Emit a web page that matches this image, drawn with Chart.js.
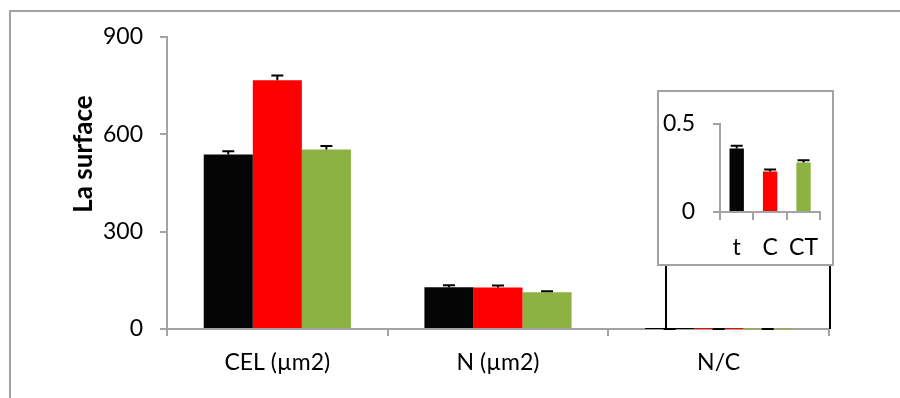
<!DOCTYPE html>
<html>
<head>
<meta charset="utf-8">
<title>La surface</title>
<script src="https://cdn.jsdelivr.net/npm/chart.js@4.4.0/dist/chart.umd.min.js"></script>
<style>
  html, body { margin: 0; padding: 0; background: #fff; overflow: hidden; }
  #wrap { position: relative; width: 900px; height: 398px; }
  #frame { position: absolute; left: 9px; top: 10px; width: 900px; height: 400px; border: 2px solid #a3a3a3; }
  #main { position: absolute; left: 0; top: 0; }
  #insetBox { position: absolute; left: 657px; top: 90px; width: 173px; height: 172px; border: 2px solid #a3a3a3; background: #fff; }
  #links { position: absolute; left: 665px; top: 266px; width: 162px; height: 63px; border-left: 2px solid #000; border-right: 2px solid #000; }
</style>
</head>
<body>
<div id="wrap">
  <div id="frame"></div>
  <canvas id="main" width="900" height="398"></canvas>
  <div id="links"></div>
  <div id="insetBox"><canvas id="inset" width="173" height="172"></canvas></div>
</div>
<script>
  // main chart data
  const categories = ['CEL (µm2)', 'N (µm2)', 'N/C'];
  const tValues = [538, 129, 0.36];
  const tErrors = [10, 6, 0.016];
  const cValues = [767, 128, 0.23];
  const cErrors = [14, 6, 0.011];
  const ctValues = [553, 113, 0.28];
  const ctErrors = [11, 3, 0.013];
  const yTicks = [0, 300, 600, 900];

  // inset (zoom on N/C)
  const insetLabels = ['t', 'C', 'CT'];
  const insetValues = [0.36, 0.23, 0.28];
  const insetErrors = [0.016, 0.011, 0.013];
  const insetTicks = [0, 0.5];

  const BLACK = '#050505', RED = '#ff0000', GREEN = '#8db243';
  const AXIS = '#a3a3a3';

  Chart.defaults.font.family = 'Lato';
  Chart.defaults.color = '#000';

  // plus-only error bars
  const errorBars = {
    id: 'errorBars',
    afterDatasetsDraw(chart, args, opts) {
      const ctx = chart.ctx;
      const y = chart.scales.y;
      ctx.save();
      ctx.strokeStyle = '#000';
      ctx.lineWidth = 2;
      chart.data.datasets.forEach((ds, i) => {
        chart.getDatasetMeta(i).data.forEach((bar, j) => {
          const v = ds.data[j], e = ds.errors[j];
          const y0 = y.getPixelForValue(v), y1 = y.getPixelForValue(v + e);
          ctx.beginPath();
          ctx.moveTo(bar.x, y0);
          ctx.lineTo(bar.x, y1);
          ctx.moveTo(bar.x - opts.cap, y1);
          ctx.lineTo(bar.x + opts.cap, y1);
          ctx.stroke();
        });
      });
      ctx.restore();
    }
  };

  // y title sits higher than the axis middle, like the original
  const yTitle = {
    id: 'yTitle',
    afterDraw(chart, args, opts) {
      const ctx = chart.ctx;
      ctx.save();
      ctx.translate(opts.x, opts.y);
      ctx.rotate(-Math.PI / 2);
      ctx.font = 'bold 26px Lato';
      ctx.fillStyle = '#000';
      ctx.textAlign = 'center';
      ctx.textBaseline = 'middle';
      ctx.fillText(opts.text, 0, 0);
      ctx.restore();
    }
  };

  function ds(label, data, errors, color) {
    return { label: label, data: data, errors: errors, backgroundColor: color, borderWidth: 0 };
  }

  new Chart(document.getElementById('main'), {
    type: 'bar',
    data: {
      labels: categories,
      datasets: [
        ds('t', tValues, tErrors, BLACK),
        ds('C', cValues, cErrors, RED),
        ds('CT', ctValues, ctErrors, GREEN)
      ]
    },
    options: {
      responsive: false,
      animation: false,
      layout: { padding: { left: 0, top: 37, right: 71, bottom: 0 } },
      datasets: { bar: { categoryPercentage: 0.667, barPercentage: 1 } },
      plugins: {
        legend: { display: false },
        tooltip: { enabled: false },
        errorBars: { cap: 6 },
        yTitle: { text: 'La surface', x: 84, y: 154 }
      },
      scales: {
        x: {
          grid: { drawOnChartArea: false, color: AXIS, lineWidth: 2, tickLength: 7, offset: true },
          border: { color: AXIS, width: 2 },
          ticks: { font: { size: 23 }, padding: 13 },
          afterFit(s) { s.height = 69; }
        },
        y: {
          min: 0,
          max: 900,
          afterBuildTicks(s) { s.ticks = yTicks.map(v => ({ value: v })); },
          grid: { drawOnChartArea: false, color: AXIS, lineWidth: 2, tickLength: 7 },
          border: { color: AXIS, width: 2 },
          ticks: { font: { size: 23 }, padding: 17 },
          afterFit(s) { s.width = 167; }
        }
      }
    },
    plugins: [errorBars, yTitle]
  });

  new Chart(document.getElementById('inset'), {
    type: 'bar',
    data: {
      labels: insetLabels,
      datasets: [{
        data: insetValues,
        errors: insetErrors,
        backgroundColor: [BLACK, RED, GREEN],
        borderWidth: 0
      }]
    },
    options: {
      responsive: false,
      animation: false,
      layout: { padding: { left: 0, top: 16, right: 0, bottom: 0 } },
      datasets: { bar: { categoryPercentage: 0.43, barPercentage: 1 } },
      plugins: {
        legend: { display: false },
        tooltip: { enabled: false },
        errorBars: { cap: 6 }
      },
      scales: {
        x: {
          grid: { drawOnChartArea: false, color: AXIS, lineWidth: 2, tickLength: 8, offset: true },
          border: { color: AXIS, width: 2 },
          ticks: { font: { size: 23 }, padding: 14 },
          afterFit(s) { s.height = 52; }
        },
        y: {
          min: 0,
          max: 0.5,
          afterBuildTicks(s) { s.ticks = insetTicks.map(v => ({ value: v })); },
          grid: { drawOnChartArea: false, color: AXIS, lineWidth: 2, tickLength: 7 },
          border: { color: AXIS, width: 2 },
          ticks: { font: { size: 23 }, padding: 18 },
          afterFit(s) { s.width = 61; }
        }
      }
    },
    plugins: [errorBars]
  });
</script>
</body>
</html>
